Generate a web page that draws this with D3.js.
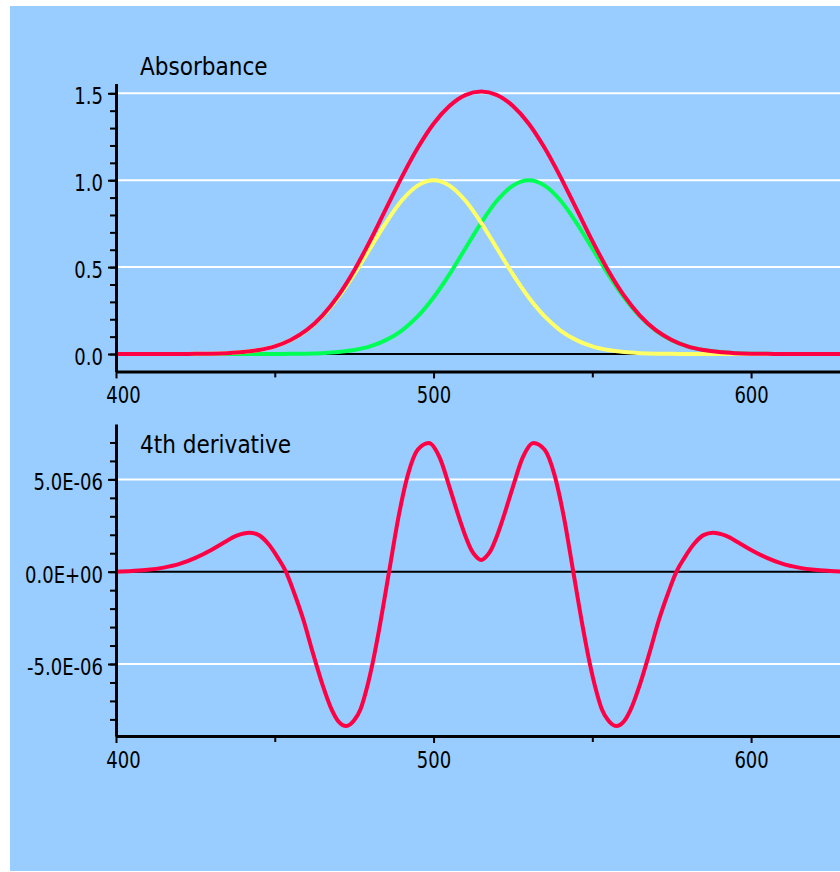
<!DOCTYPE html>
<html>
<head>
<meta charset="utf-8">
<script src="https://cdn.jsdelivr.net/npm/d3@7"></script>
<style>
  body { margin: 0; background: #fff; }
  text { font-family: "DejaVu Sans Condensed", "Liberation Sans Narrow", "DejaVu Sans", sans-serif; font-stretch: condensed; fill: #000; }
</style>
</head>
<body>
<script>
// wavelength grid (nm) for the absorbance bands
var wavelengths = [400,405,410,415,420,425,430,435,440,445,450,455,460,465,470,475,480,485,490,495,
                   500,505,510,515,520,525,530,535,540,545,550,555,560,565,570,575,580,585,590,595,
                   600,605,610,615,620,625,630];
// yellow band, peak at 500
var bandA = [0,0,0,0,0.0003,0.001,0.002,0.005,0.011,0.023,0.044,0.08,0.135,0.216,0.325,0.458,0.607,0.755,0.883,0.969,
             1.0,0.969,0.883,0.755,0.607,0.458,0.325,0.216,0.135,0.08,0.044,0.023,0.011,0.005,0.002,0.001,0.0003,0,0,0,
             0,0,0,0,0,0,0];
// green band, peak at 530
var bandB = [0,0,0,0,0,0,0,0,0,0,0.0003,0.001,0.002,0.005,0.011,0.023,0.044,0.08,0.135,0.216,
             0.325,0.458,0.607,0.755,0.883,0.969,1.0,0.969,0.883,0.755,0.607,0.458,0.325,0.216,0.135,0.08,0.044,0.023,0.011,0.005,
             0.002,0.001,0.0003,0,0,0,0];
// red, overall absorbance
var absorbance = [0,0,0,0,0.0003,0.001,0.002,0.005,0.011,0.023,0.044,0.081,0.137,0.221,0.336,0.481,0.651,0.835,1.018,1.185,
                  1.325,1.427,1.49,1.51,1.49,1.427,1.325,1.185,1.018,0.835,0.651,0.481,0.336,0.221,0.137,0.081,0.044,0.023,0.011,0.005,
                  0.002,0.001,0.0003,0,0,0,0];

// 4th derivative
var derivNm = [400,405,410,415,420,425,430,434,438,442,445,448,451,453.5,456,459,462,465,468,470,472.5,
               475,477,479,481,483,486,489,492,495,498.5,502,505,508,510,512,513.5,515,516.5,518,520,522,
               525,528,531.5,535,538,541,544,547,549,551,553,555,557.5,560,562,565,568,571,574,576.5,
               579,582,585,588,592,596,600,605,610,615,620,625,630];
var deriv = [0,0.04e-6,0.1e-6,0.22e-6,0.42e-6,0.75e-6,1.18e-6,1.58e-6,1.95e-6,2.11e-6,1.98e-6,1.5e-6,0.75e-6,0,
             -1.1e-6,-2.6e-6,-4.4e-6,-6.1e-6,-7.5e-6,-8.1e-6,-8.36e-6,
             -8.05e-6,-7.45e-6,-6.3e-6,-4.8e-6,-3.0e-6,0,3.0e-6,5.3e-6,6.6e-6,6.97e-6,6.15e-6,4.6e-6,2.95e-6,1.95e-6,1.15e-6,0.8e-6,
             0.63e-6,0.8e-6,1.15e-6,1.95e-6,2.95e-6,
             4.6e-6,6.15e-6,6.97e-6,6.6e-6,5.3e-6,3.0e-6,0,-3.0e-6,-4.8e-6,-6.3e-6,-7.45e-6,-8.05e-6,-8.36e-6,-8.1e-6,
             -7.5e-6,-6.1e-6,-4.4e-6,-2.6e-6,-1.1e-6,0,
             0.75e-6,1.5e-6,1.98e-6,2.11e-6,1.95e-6,1.58e-6,1.18e-6,0.75e-6,0.42e-6,0.22e-6,0.1e-6,0.04e-6,0];

var xTicks = [400, 500, 600];
var xMinor = [450, 550];
var absTicks = [0, 0.5, 1.0, 1.5];
var absTickLabels = ["0.0", "0.5", "1.0", "1.5"];
var absMinor = [0,0.1,0.2,0.3,0.4,0.5,0.6,0.7,0.8,0.9,1.0,1.1,1.2,1.3,1.4,1.5];
var derivTicks = [-5e-6, 0, 5e-6];
var derivTickLabels = ["-5.0E-06", "0.0E+00", "5.0E-06"];
var derivMinor = [-8e-6,-7e-6,-6e-6,-5e-6,-4e-6,-3e-6,-2e-6,-1e-6,0,1e-6,2e-6,3e-6,4e-6,5e-6,6e-6,7e-6];

var svg = d3.select("body").append("svg")
    .attr("width", 840)
    .attr("height", 872);

svg.append("rect").attr("width", 840).attr("height", 872).attr("fill", "#fff");
svg.append("rect")
    .attr("x", 10).attr("y", 6)
    .attr("width", 830).attr("height", 865)
    .attr("fill", "#99ccff");

var x = d3.scaleLinear().domain([400, 628]).range([116, 840]);
var yTop = d3.scaleLinear().domain([-0.1, 1.557]).range([371.4, 83.4]);
var yBot = d3.scaleLinear().domain([-8.9e-6, 8e-6]).range([736, 424]);

// labels in the original are narrower than the installed fonts
function squeeze(sel) {
  sel.each(function () {
    var w = this.getComputedTextLength();
    d3.select(this).attr("textLength", w * 0.87).attr("lengthAdjust", "spacingAndGlyphs");
  });
}

function panel(y, ticks, title, titleY) {
  // white grid lines, except the zero one
  svg.append("g").selectAll("line")
    .data(ticks.filter(function (d) { return d !== 0; }))
    .join("line")
    .attr("x1", x.range()[0]).attr("x2", x.range()[1])
    .attr("y1", function (d) { return y(d); })
    .attr("y2", function (d) { return y(d); })
    .attr("stroke", "#fff")
    .attr("stroke-width", 2);

  svg.append("line")
    .attr("x1", x.range()[0]).attr("x2", x.range()[1])
    .attr("y1", y(0)).attr("y2", y(0))
    .attr("stroke", "#000")
    .attr("stroke-width", 2);

  svg.append("text")
    .attr("x", 140).attr("y", titleY)
    .attr("font-size", 24)
    .text(title);
}

function axes(y, ticks, labels, minor) {
  var yb = y.range()[0];

  var gxMinor = svg.append("g").attr("transform", "translate(0," + yb + ")")
    .call(d3.axisBottom(x).tickValues(xMinor).tickSize(6).tickSizeOuter(0).tickFormat(""));
  gxMinor.select(".domain").remove();

  var gx = svg.append("g").attr("transform", "translate(0," + yb + ")")
    .call(d3.axisBottom(x).tickValues(xTicks).tickSize(7).tickSizeOuter(0).tickFormat(d3.format("d")));
  gx.selectAll("text")
    .attr("y", 32).attr("dy", null)
    .attr("font-size", 23)
    .attr("dx", function (d) { return d === 400 ? 7 : 0; })
    .call(squeeze);

  var gyMinor = svg.append("g").attr("transform", "translate(116,0)")
    .call(d3.axisLeft(y).tickValues(minor).tickSize(6).tickSizeOuter(0).tickFormat(""));
  gyMinor.select(".domain").remove();

  var gy = svg.append("g").attr("transform", "translate(116,0)")
    .call(d3.axisLeft(y).tickValues(ticks).tickSize(8).tickSizeOuter(0)
      .tickFormat(function (d, i) { return labels[i]; }));
  gy.selectAll("text")
    .attr("x", -13).attr("dy", "0.45em")
    .attr("font-size", 23)
    .call(squeeze);

  svg.selectAll(".tick line").attr("stroke", "#000").attr("stroke-width", 2);
  gx.select(".domain").attr("stroke", "#000").attr("stroke-width", 3);
  gy.select(".domain").attr("stroke", "#000").attr("stroke-width", 3);
}

// top panel: absorbance
panel(yTop, absTicks, "Absorbance", 75);

var absLine = function (vals) {
  return d3.line()
    .x(function (d, i) { return x(wavelengths[i]); })
    .y(function (d) { return yTop(d); })
    .curve(d3.curveMonotoneX)(vals);
};

svg.append("path").attr("d", absLine(bandB))
    .attr("fill", "none").attr("stroke", "#00ff55").attr("stroke-width", 4);
svg.append("path").attr("d", absLine(bandA))
    .attr("fill", "none").attr("stroke", "#ffff66").attr("stroke-width", 4);
svg.append("path").attr("d", absLine(absorbance))
    .attr("fill", "none").attr("stroke", "#ff0044").attr("stroke-width", 4);

axes(yTop, absTicks, absTickLabels, absMinor);

// bottom panel: 4th derivative
panel(yBot, derivTicks, "4th derivative", 453);

var derivLine = d3.line()
    .x(function (d, i) { return x(derivNm[i]); })
    .y(function (d) { return yBot(d); })
    .curve(d3.curveMonotoneX);

svg.append("path").attr("d", derivLine(deriv))
    .attr("fill", "none").attr("stroke", "#ff0044").attr("stroke-width", 4);

axes(yBot, derivTicks, derivTickLabels, derivMinor);
</script>
</body>
</html>
